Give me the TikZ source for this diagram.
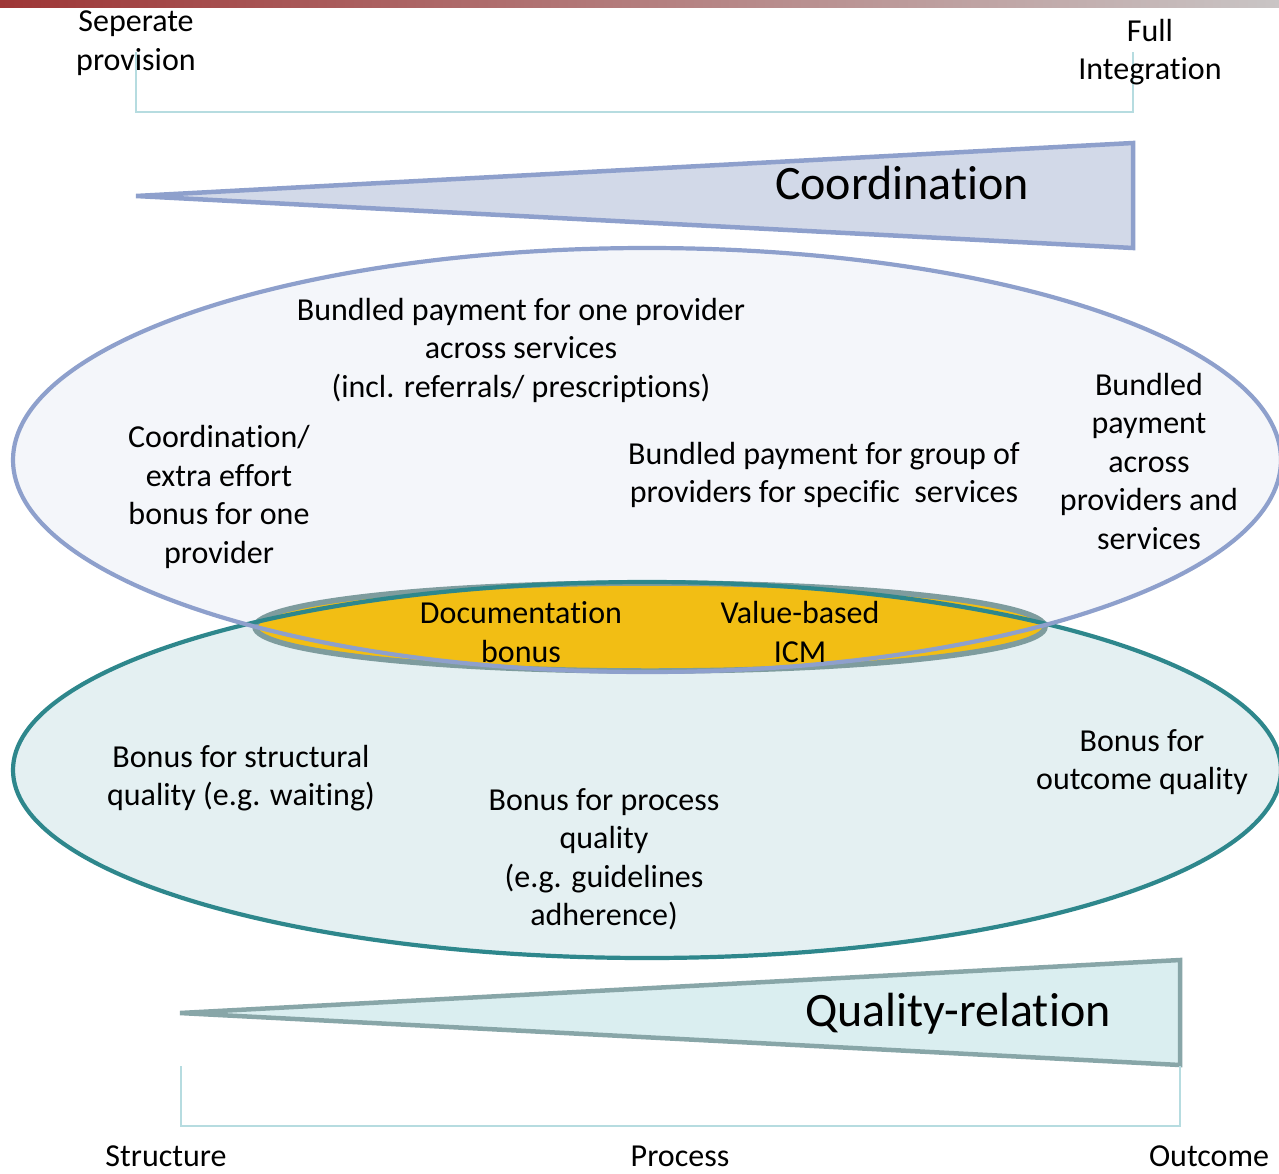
\documentclass[tikz,border=0pt]{standalone}
\usepackage{fontspec}
\setmainfont{Carlito}[Ligatures={NoCommon,NoContextual}]
\begin{document}
\begin{tikzpicture}[x=1pt,y=-1pt,
  txt/.style={align=center,inner sep=0pt,font=\fontsize{32}{38.5}\selectfont,text=black},
  bigtxt/.style={inner sep=0pt,font=\fontsize{48}{58}\selectfont,text=black},
  bracket/.style={draw=bracketc,line width=2pt},
]
\definecolor{bracketc}{HTML}{B6DCE0}
\definecolor{coordfill}{HTML}{D2D9E8}
\definecolor{coordline}{HTML}{8EA0CC}
\definecolor{upfill}{HTML}{F4F6FA}
\definecolor{lowfill}{HTML}{E4F0F2}
\definecolor{lowline}{HTML}{2E878C}
\definecolor{lensfill}{HTML}{F2BE14}
\definecolor{lensline}{HTML}{7E9C9E}
\definecolor{qfill}{HTML}{DAEEF0}
\definecolor{qline}{HTML}{88A6A8}
\useasboundingbox (0,0) rectangle (1279,1173);
\clip (0,0) rectangle (1279,1173);
\fill[white] (0,0) rectangle (1279,1173);
% top gradient bar
\shade[left color={rgb,255:red,158;green,54;blue,54}, middle color={rgb,255:red,170;green,108;blue,110}, right color={rgb,255:red,201;green,197;blue,197}] (0,0) rectangle (1279,7);

% top bracket
\coordinate (tl) at (136,52);
\coordinate (tr) at (1133,52);
\draw[bracket] (tl) |- (1133,112) -- (tr);

% coordination wedge
\draw[fill=coordfill,draw=coordline,line width=4.5pt,line join=miter] (136,196) -- (1133,143) -- (1133,248) -- cycle;
\node[bigtxt] (coord) at (902,183) {Coordination};

% ellipses fills
\fill[upfill] (647,460) ellipse [x radius=634, y radius=212];
\fill[lowfill] (647,770) ellipse [x radius=634, y radius=188];
% lens
\draw[fill=lensfill,draw=lensline,line width=5.5pt] (650,627) ellipse [x radius=395, y radius=44];
% outlines
\draw[lowline,line width=4.2pt] (647,770) ellipse [x radius=634, y radius=188];
\draw[coordline,line width=4.2pt] (647,460) ellipse [x radius=634, y radius=212];

% quality wedge
\draw[fill=qfill,draw=qline,line width=4.5pt,line join=miter] (180,1013) -- (1180,960) -- (1180,1065) -- cycle;
\node[bigtxt] (qual) at (958,1014) {Quality-relation};

% bottom bracket
\coordinate (bl) at (181,1066);
\coordinate (br) at (1180,1066);
\draw[bracket] (bl) |- (1180,1126) -- (br);

% texts
\node[txt] (sep) at (136,43) {Seperate\\provision};
\node[txt] (full) at (1150,52) {Full\\Integration};
\node[txt] (b1) at (521,350) {Bundled payment for one provider\\across services\\(incl. referrals/ prescriptions)};
\node[txt] (c1) at (219,497) {Coordination/\\extra effort\\bonus for one\\provider};
\node[txt] (b2) at (824,475) {Bundled payment for group of\\providers for specific\ \ services};
\node[txt] (b3) at (1149,461) {Bundled\\payment\\across\\providers and\\services};
\node[txt] (doc) at (521,632) {Documentation\\bonus};
\node[txt] (icm) at (800,632) {Value-based\\ICM};
\node[txt] (s1) at (241,778) {Bonus for structural\\quality (e.g. waiting)};
\node[txt] (p1) at (604,859) {Bonus for process\\quality\\(e.g. guidelines\\adherence)};
\node[txt] (o1) at (1142,762) {Bonus for\\outcome quality};
\node[txt] (st) at (166,1156) {Structure};
\node[txt] (pr) at (680,1156) {Process};
\node[txt] (oc) at (1209,1156) {Outcome};
\end{tikzpicture}
\end{document}
